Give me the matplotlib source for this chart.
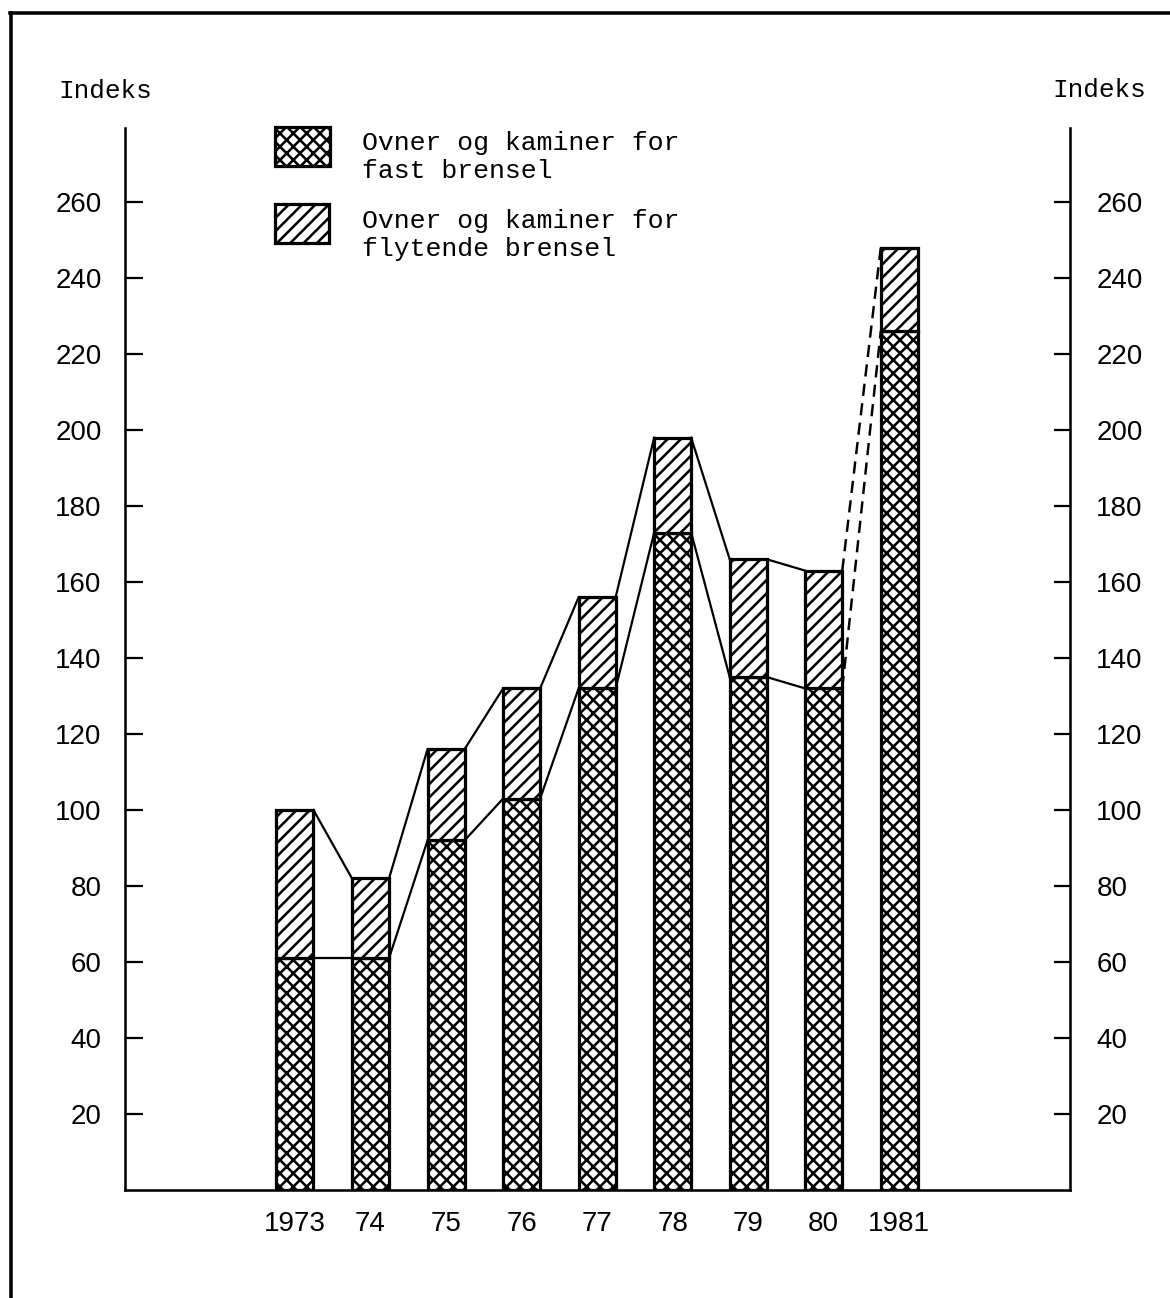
import numpy as np
import matplotlib
matplotlib.use("Agg")
import matplotlib.pyplot as plt
import matplotlib.transforms as mtransforms
from matplotlib.patches import Rectangle
from matplotlib.lines import Line2D

# Data (index values)
years = ["1973", "74", "75", "76", "77", "78", "79", "80", "1981"]
fastBrensel = [61, 61, 92, 103, 132, 173, 135, 132, 226]
totalIndex = [100, 82, 116, 132, 156, 198, 166, 163, 248]
yTicks = [20, 40, 60, 80, 100, 120, 140, 160, 180, 200, 220, 240, 260]
legendLabels = [["Ovner og kaminer for", "fast brensel"],
                ["Ovner og kaminer for", "flytende brensel"]]

flytende = [t - f for t, f in zip(totalIndex, fastBrensel)]

W, H, DPI = 1170, 1298, 80
plt.rcParams['hatch.linewidth'] = 2.3
plt.rcParams['font.family'] = ['Liberation Sans', 'DejaVu Sans']

fig = plt.figure(figsize=(W / DPI, H / DPI), dpi=DPI)
fig.patch.set_facecolor('white')

def px(x, y):
    # pixel position (from top-left) to figure fraction
    return x / W, 1 - y / H

ax = fig.add_axes([125 / W, 1 - 1190 / H, (1070 - 125) / W, (1190 - 128) / H])

xPos = np.arange(len(years))
barWidth = 0.49

ax.bar(xPos, fastBrensel, barWidth, color='white', edgecolor='black',
       hatch='xx', linewidth=2.9, zorder=3)
ax.bar(xPos, flytende, barWidth, bottom=fastBrensel, color='white',
       edgecolor='black', hatch='//', linewidth=2.9, zorder=3)

# Connecting lines between neighbouring bars, dashed into 1981
for i in range(len(years) - 1):
    x0 = xPos[i] + barWidth / 2
    x1 = xPos[i + 1] - barWidth / 2
    for series in (totalIndex, fastBrensel):
        if i == len(years) - 2:
            ax.plot([x0, x1], [series[i], series[i + 1]], '--', c='black',
                    lw=2.2, dashes=(5, 3), zorder=2)
        else:
            ax.plot([x0, x1], [series[i], series[i + 1]], '-', c='black',
                    lw=2.0, zorder=2)

ax.set_xlim(-2.25, 10.26)
ax.set_ylim(0, 279.5)

ax.spines['top'].set_visible(False)
for side in ['left', 'right', 'bottom']:
    ax.spines[side].set_linewidth(2.3)

ax.set_xticks(xPos)
ax.set_xticklabels(years)
ax.tick_params(axis='x', length=0, pad=19, labelsize=25)

ax.set_yticks(yTicks)
ax.tick_params(axis='y', direction='in', length=16, width=2,
               labelsize=25, left=True, right=True, labelleft=True,
               labelright=True, pad=21)
for t in ax.yaxis.get_major_ticks():
    t.tick2line.set_markersize(14)

# right-hand labels sit a little further from the spine
shiftRight = mtransforms.ScaledTranslation(3 / DPI, 0, fig.dpi_scale_trans)
for lab in ax.yaxis.get_ticklabels(which='major'):
    pass
for t in ax.yaxis.get_major_ticks():
    t.label2.set_transform(t.label2.get_transform() + shiftRight)

# "Indeks" labels at both sides
mono = ['Liberation Mono', 'DejaVu Sans Mono']
fig.text(*px(58, 91), "Indeks", family=mono, fontsize=23.5, ha='left', va='center')
fig.text(*px(1052, 90), "Indeks", family=mono, fontsize=23.5, ha='left', va='center')

# Legend drawn by hand
boxes = [(275, 127, 55, 39, 'xx'), (275, 204, 54, 39, '//')]
baselines = [(150, 178), (228, 256)]
for (bx, by, bw, bh, hatch), lines, base in zip(boxes, legendLabels, baselines):
    fx, fy = px(bx, by + bh)
    fig.add_artist(Rectangle((fx, fy), bw / W, bh / H, transform=fig.transFigure,
                             facecolor='white', edgecolor='black', hatch=hatch,
                             linewidth=2.9))
    for line, b in zip(lines, base):
        fig.text(*px(362, b), line, family=mono, fontsize=23.8,
                 ha='left', va='baseline')

# Outer frame (top and left only)
fig.add_artist(Line2D([10 / W, 1.0], [1 - 13 / H, 1 - 13 / H],
                      transform=fig.transFigure, c='black', lw=3.2))
fig.add_artist(Line2D([11 / W, 11 / W], [0, 1 - 13 / H],
                      transform=fig.transFigure, c='black', lw=3.2))

fig.savefig('out.png', dpi=DPI, facecolor='white')
